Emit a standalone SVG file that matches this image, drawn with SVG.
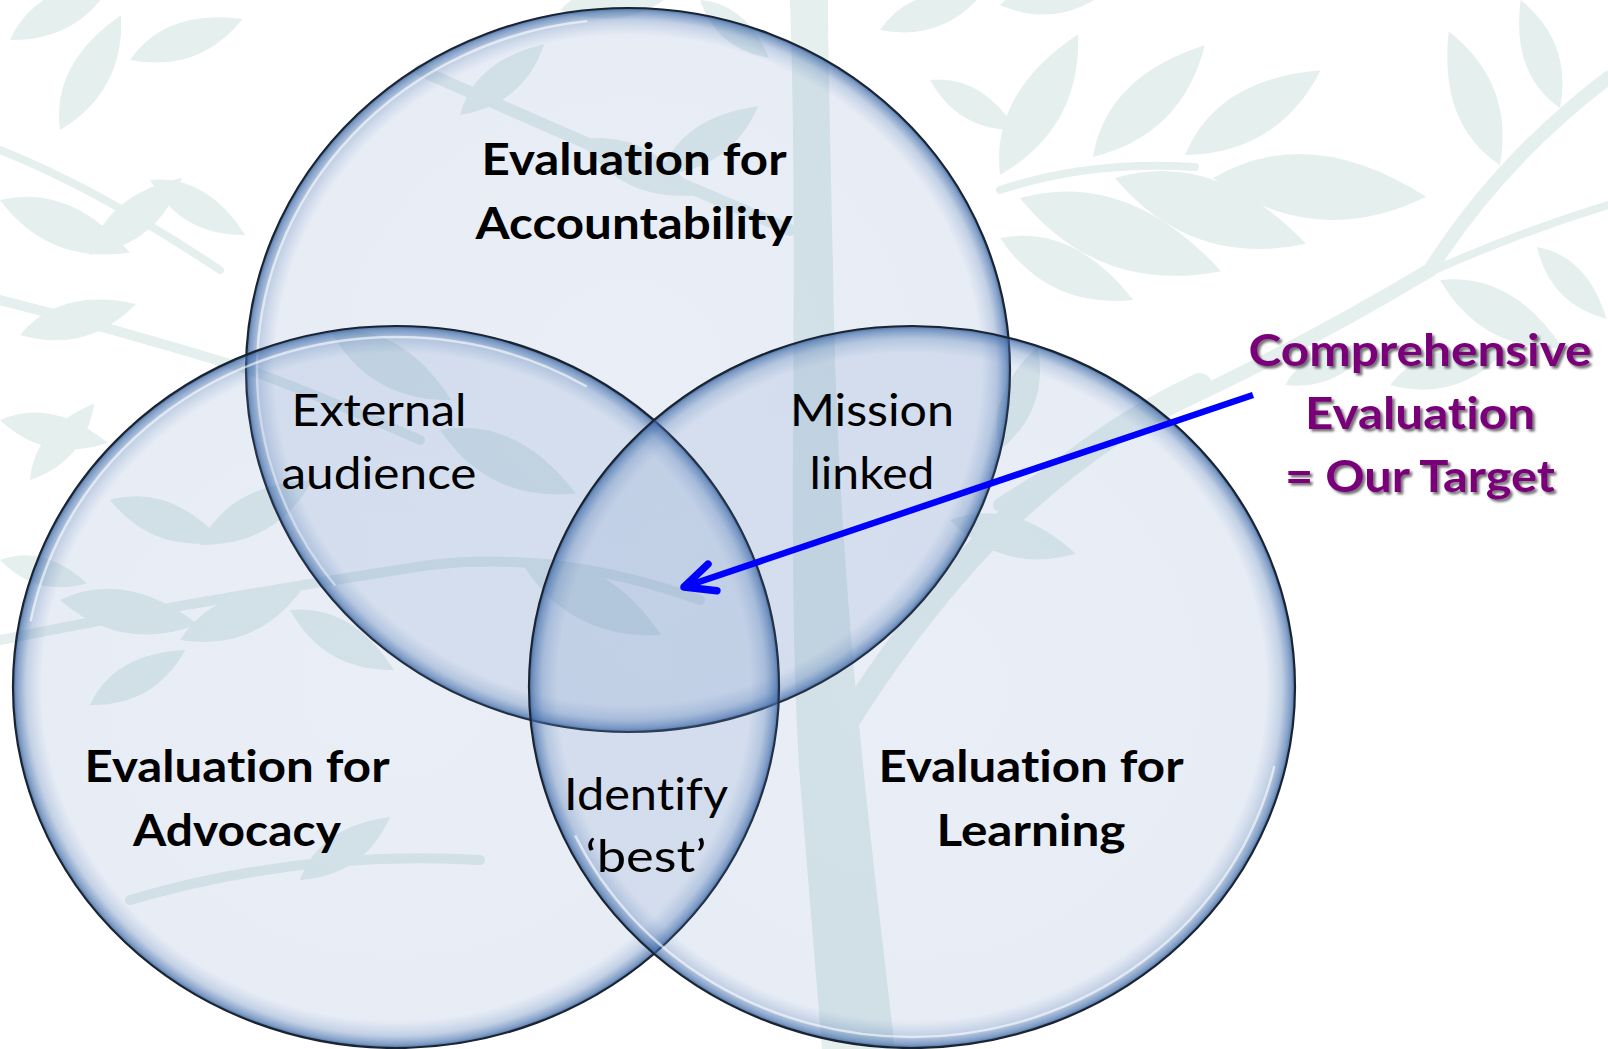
<svg xmlns="http://www.w3.org/2000/svg" xmlns:xlink="http://www.w3.org/1999/xlink" width="1608" height="1049" viewBox="0 0 1608 1049">
<style>
.lf{fill:#e5efee}
.br{fill:none;stroke:#e5efee;stroke-linecap:round}
.disc{fill:url(#glass);stroke:#1b2431;stroke-width:2.2}
.hl{fill:none;stroke:#ffffff;stroke-opacity:0.6;stroke-width:2.5}
.t{font-family:Lato,"Open Sans",sans-serif;font-size:44px;fill:#000;text-anchor:middle;font-variant-ligatures:none;font-feature-settings:"liga" 0,"clig" 0}
.b{font-weight:bold}
.tp{font-family:Lato,"Open Sans",sans-serif;font-size:44px;font-weight:bold;fill:#7a067a;text-anchor:middle;filter:url(#shadow);font-variant-ligatures:none;font-feature-settings:"liga" 0,"clig" 0}
.arrow{fill:none;stroke:#0000ff;stroke-width:6.5;marker-end:url(#chev)}
</style>
<defs>
<path id="leaf" d="M0,0 Q0.42,-0.3 1,0 Q0.5,0.3 0,0Z"/>
<radialGradient id="glass" cx="0.5" cy="0.5" r="0.5">
<stop offset="0" stop-color="#5d82bd" stop-opacity="0.13"/>
<stop offset="0.925" stop-color="#5d82bd" stop-opacity="0.15"/>
<stop offset="0.965" stop-color="#4f78b4" stop-opacity="0.34"/>
<stop offset="0.99" stop-color="#3d6aa8" stop-opacity="0.65"/>
<stop offset="1" stop-color="#2f5a98" stop-opacity="0.85"/>
</radialGradient>
<filter id="shadow" x="-10%" y="-20%" width="120%" height="150%">
<feDropShadow dx="2.5" dy="2.5" stdDeviation="1.3" flood-color="#000" flood-opacity="0.55"/>
</filter>
<marker id="chev" markerUnits="userSpaceOnUse" viewBox="-40 -22 48 44" refX="0" refY="0" markerWidth="48" markerHeight="44" orient="auto" overflow="visible">
<path d="M-30,-14 L0,0 L-30,14" fill="none" stroke="#0000ff" stroke-width="7.5" stroke-linecap="round" stroke-linejoin="round"/>
</marker>
</defs>
<rect x="0" y="0" width="1608" height="1049" fill="#ffffff"/>
<g id="background">
<path class="lf" d="M790,0 C800,300 785,560 800,780 L822,1049 L895,1049 C872,850 840,600 834,320 C831,160 828,60 828,0 Z"/>
<path class="br" stroke-width="24" d="M848,720 C950,560 1060,450 1200,385"/>
<path class="br" stroke-width="14" d="M1608,78 Q1500,160 1430,270 Q1330,330 1220,384 Q1100,440 1000,505"/>
<path class="br" stroke-width="8" d="M1430,272 Q1520,232 1608,205"/>
<path class="br" stroke-width="8" d="M1000,190 Q1090,160 1195,167"/>
<path class="br" stroke-width="10" d="M0,300 Q120,330 250,370 Q330,400 420,440"/>
<path class="br" stroke-width="8" d="M0,150 Q100,190 220,270"/>
<path class="br" stroke-width="10" d="M0,640 Q200,600 430,565 Q560,550 700,600"/>
<path class="br" stroke-width="12" d="M420,70 Q600,150 790,230"/>
<path class="br" stroke-width="10" d="M130,900 Q300,850 480,860"/>
<use xlink:href="#leaf" class="lf" transform="translate(1093,157) rotate(-45) scale(158)"/>
<use xlink:href="#leaf" class="lf" transform="translate(1185,155) rotate(-32) scale(160)"/>
<use xlink:href="#leaf" class="lf" transform="translate(1000,175) rotate(-61) scale(161)"/>
<use xlink:href="#leaf" class="lf" transform="translate(1020,198) rotate(20) scale(214)"/>
<use xlink:href="#leaf" class="lf" transform="translate(1115,178) rotate(19) scale(202)"/>
<use xlink:href="#leaf" class="lf" transform="translate(1213,178) rotate(5) scale(214)"/>
<use xlink:href="#leaf" class="lf" transform="translate(1000,238) rotate(25) scale(147)"/>
<use xlink:href="#leaf" class="lf" transform="translate(1500,165) rotate(-111) scale(143)"/>
<use xlink:href="#leaf" class="lf" transform="translate(1560,108) rotate(-110) scale(115)"/>
<use xlink:href="#leaf" class="lf" transform="translate(1440,280) rotate(29) scale(140)"/>
<use xlink:href="#leaf" class="lf" transform="translate(1537,247) rotate(46) scale(100)"/>
<use xlink:href="#leaf" class="lf" transform="translate(1285,385) rotate(-25) scale(95)"/>
<use xlink:href="#leaf" class="lf" transform="translate(1390,385) rotate(-16) scale(118)"/>
<use xlink:href="#leaf" class="lf" transform="translate(1000,5) rotate(-8) scale(110)"/>
<use xlink:href="#leaf" class="lf" transform="translate(10,40) rotate(-30) scale(120)"/>
<use xlink:href="#leaf" class="lf" transform="translate(60,130) rotate(-62) scale(130)"/>
<use xlink:href="#leaf" class="lf" transform="translate(130,60) rotate(-20) scale(120)"/>
<use xlink:href="#leaf" class="lf" transform="translate(0,200) rotate(22) scale(140)"/>
<use xlink:href="#leaf" class="lf" transform="translate(90,255) rotate(-40) scale(120)"/>
<use xlink:href="#leaf" class="lf" transform="translate(150,180) rotate(30) scale(110)"/>
<use xlink:href="#leaf" class="lf" transform="translate(20,335) rotate(-15) scale(120)"/>
<use xlink:href="#leaf" class="lf" transform="translate(0,420) rotate(12) scale(110)"/>
<use xlink:href="#leaf" class="lf" transform="translate(30,480) rotate(-50) scale(100)"/>
<use xlink:href="#leaf" class="lf" transform="translate(0,560) rotate(15) scale(90)"/>
<use xlink:href="#leaf" class="lf" transform="translate(700,0) rotate(40) scale(90)"/>
<use xlink:href="#leaf" class="lf" transform="translate(880,30) rotate(-20) scale(110)"/>
<use xlink:href="#leaf" class="lf" transform="translate(930,80) rotate(30) scale(100)"/>
<use xlink:href="#leaf" class="lf" transform="translate(560,10) rotate(-10) scale(120)"/>
<use xlink:href="#leaf" class="lf" transform="translate(460,115) rotate(-40) scale(110)"/>
<use xlink:href="#leaf" class="lf" transform="translate(580,140) rotate(25) scale(130)"/>
<use xlink:href="#leaf" class="lf" transform="translate(660,175) rotate(-35) scale(120)"/>
<use xlink:href="#leaf" class="lf" transform="translate(330,330) rotate(30) scale(140)"/>
<use xlink:href="#leaf" class="lf" transform="translate(440,430) rotate(25) scale(150)"/>
<use xlink:href="#leaf" class="lf" transform="translate(110,500) rotate(20) scale(120)"/>
<use xlink:href="#leaf" class="lf" transform="translate(200,545) rotate(-30) scale(130)"/>
<use xlink:href="#leaf" class="lf" transform="translate(60,600) rotate(10) scale(140)"/>
<use xlink:href="#leaf" class="lf" transform="translate(180,640) rotate(-22) scale(130)"/>
<use xlink:href="#leaf" class="lf" transform="translate(290,610) rotate(30) scale(120)"/>
<use xlink:href="#leaf" class="lf" transform="translate(90,705) rotate(-30) scale(110)"/>
<use xlink:href="#leaf" class="lf" transform="translate(520,560) rotate(28) scale(160)"/>
<use xlink:href="#leaf" class="lf" transform="translate(1000,450) rotate(-70) scale(110)"/>
<use xlink:href="#leaf" class="lf" transform="translate(950,520) rotate(15) scale(130)"/>
<use xlink:href="#leaf" class="lf" transform="translate(300,880) rotate(-35) scale(110)"/>
</g>
<g id="node-accountability">
<ellipse class="disc" cx="628" cy="370" rx="382" ry="362"/>
<ellipse class="hl" cx="628" cy="370" rx="371" ry="351" stroke-dasharray="0 900 760 900"/>
<text class="t b" x="634" y="175" textLength="305" lengthAdjust="spacingAndGlyphs">Evaluation for</text>
<text class="t b" x="634" y="239" textLength="317" lengthAdjust="spacingAndGlyphs">Accountability</text>
</g>
<g id="node-advocacy">
<ellipse class="disc" cx="396" cy="687" rx="383" ry="361"/>
<ellipse class="hl" cx="396" cy="687" rx="372" ry="350" stroke-dasharray="0 1200 700 900"/>
<text class="t b" x="237" y="782" textLength="305" lengthAdjust="spacingAndGlyphs">Evaluation for</text>
<text class="t b" x="237" y="846" textLength="208" lengthAdjust="spacingAndGlyphs">Advocacy</text>
</g>
<g id="node-learning">
<ellipse class="disc" cx="912" cy="687" rx="383" ry="361"/>
<ellipse class="hl" cx="912" cy="687" rx="372" ry="350" stroke-dasharray="0 80 900 2000"/>
<text class="t b" x="1031" y="782" textLength="305" lengthAdjust="spacingAndGlyphs">Evaluation for</text>
<text class="t b" x="1031" y="846" textLength="189" lengthAdjust="spacingAndGlyphs">Learning</text>
</g>
<g id="node-external-audience">
<text class="t" x="379" y="426" textLength="175" lengthAdjust="spacingAndGlyphs">External</text>
<text class="t" x="379" y="489" textLength="195" lengthAdjust="spacingAndGlyphs">audience</text>
</g>
<g id="node-mission-linked">
<text class="t" x="872" y="426" textLength="164" lengthAdjust="spacingAndGlyphs">Mission</text>
<text class="t" x="872" y="489" textLength="125" lengthAdjust="spacingAndGlyphs">linked</text>
</g>
<g id="node-identify-best">
<text class="t" x="646" y="810" textLength="164" lengthAdjust="spacingAndGlyphs">Identify</text>
<text class="t" x="646" y="872" textLength="121" lengthAdjust="spacingAndGlyphs">‘best’</text>
</g>
<g id="node-target">
<text class="tp" x="1420" y="366" textLength="343" lengthAdjust="spacingAndGlyphs">Comprehensive</text>
<text class="tp" x="1420" y="429" textLength="230" lengthAdjust="spacingAndGlyphs">Evaluation</text>
<text class="tp" x="1420" y="492" textLength="270" lengthAdjust="spacingAndGlyphs">= Our Target</text>
</g>
<g id="connectors">
<path class="arrow" d="M1253,395 L684,587"/>
</g>
</svg>
